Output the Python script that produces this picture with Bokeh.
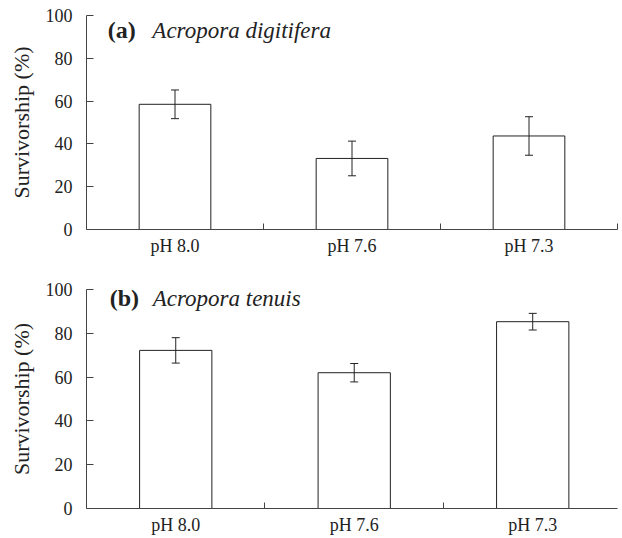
from bokeh.plotting import figure
from bokeh.models import (ColumnDataSource, FixedTicker, Range1d, Whisker, TeeHead, Label)
from bokeh.layouts import column
from bokeh.embed import file_html
from bokeh.resources import INLINE

# ---- data ----
categories = ["pH 8.0", "pH 7.6", "pH 7.3"]
a_mean = [58.5, 33.2, 43.7]
a_err = [6.7, 8.1, 9.0]
b_mean = [72.2, 62.0, 85.3]
b_err = [5.8, 4.2, 3.8]
y_ticks = [0, 20, 40, 60, 80, 100]

FONT = "Liberation Serif"
INK = "#222222"
AXC = "#444444"


def panel(means, errs, tag, species, width, height, left, right, top, bottom, xend,
          tag_x, sp_x, lab_y):
    centers = [i + 0.5 for i in range(len(categories))]
    bounds = [i + 1 for i in range(len(categories))]
    src = ColumnDataSource(dict(
        x=centers, top=means,
        upper=[m + e for m, e in zip(means, errs)],
        lower=[m - e for m, e in zip(means, errs)],
    ))
    p = figure(width=width, height=height, output_backend="svg", toolbar_location=None,
               x_range=Range1d(0, xend), y_range=Range1d(0, 100),
               min_border_left=left, min_border_top=top, min_border_bottom=bottom,
               min_border_right=right)
    p.outline_line_color = None
    p.xgrid.visible = False
    p.ygrid.visible = False
    p.background_fill_color = "white"
    p.border_fill_color = "white"

    p.vbar(x="x", top="top", width=0.405, bottom=0, source=src,
           fill_color="white", line_color=INK, line_width=1)
    w = Whisker(base="x", upper="upper", lower="lower", source=src,
                line_color=INK, line_width=1, level="overlay",
                upper_head=TeeHead(size=8, line_color=INK, line_width=1),
                lower_head=TeeHead(size=8, line_color=INK, line_width=1))
    p.add_layout(w)

    xa = p.xaxis[0]
    xa.ticker = FixedTicker(ticks=centers, minor_ticks=bounds)
    xa.major_label_overrides = {c: n for c, n in zip(centers, categories)}
    xa.major_tick_in = 0
    xa.major_tick_out = 0
    xa.minor_tick_in = 6
    xa.minor_tick_out = 0
    xa.minor_tick_line_color = AXC
    xa.axis_line_color = AXC
    xa.major_label_text_font = FONT
    xa.major_label_text_font_size = "18px"
    xa.major_label_text_color = INK
    xa.major_label_standoff = 6

    ya = p.yaxis[0]
    ya.ticker = FixedTicker(ticks=y_ticks)
    ya.major_tick_in = 7
    ya.major_tick_out = 0
    ya.minor_tick_line_color = None
    ya.axis_line_color = AXC
    ya.major_tick_line_color = AXC
    ya.major_label_text_font = FONT
    ya.major_label_text_font_size = "18px"
    ya.major_label_text_color = INK
    ya.major_label_standoff = 14
    ya.axis_label = "Survivorship (%)"
    ya.axis_label_text_font = FONT
    ya.axis_label_text_font_size = "22px"
    ya.axis_label_text_font_style = "normal"
    ya.axis_label_text_color = INK
    ya.axis_label_standoff = 9

    p.add_layout(Label(x=tag_x, y=lab_y, text=tag, text_font=FONT, text_font_size="24px",
                       text_font_style="bold", text_color=INK, text_baseline="alphabetic"))
    p.add_layout(Label(x=sp_x, y=lab_y, text=species, text_font=FONT, text_font_size="23px",
                       text_font_style="italic", text_color=INK, text_baseline="alphabetic"))
    return p


p1 = panel(a_mean, a_err, "(a)", "Acropora digitifera", 622, 258, 77, 5, 15, 29, 3,
           0.12, 0.372, 93)
p2 = panel(b_mean, b_err, "(b)", "Acropora tenuis", 622, 280, 86, 0, 31, 30, 2.975,
           0.13, 0.371, 96)

layout = column(p1, p2, spacing=0)
open("out.html", "w").write(file_html(layout, INLINE))
